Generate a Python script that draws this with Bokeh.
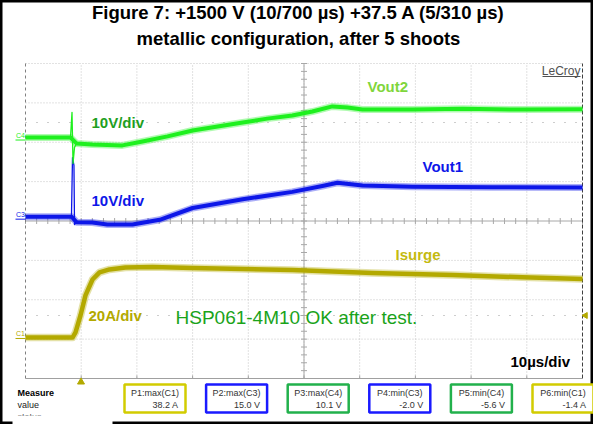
import numpy as np
from bokeh.plotting import figure
from bokeh.models import Range1d
from bokeh.core.properties import value
from bokeh.embed import file_html
from bokeh.resources import INLINE

# ---------------- data ----------------
# time in microseconds (10 us/div, trigger at t=0)
t_vout2 = [-10, -1.92, -1.65, -1.47, -1.2, -0.84, 2.0, 7.4, 11.0, 15.5, 20.0, 24.5,
           29.0, 33.4, 37.9, 41.5, 45.1, 47.8, 50.5, 59.5, 68.5, 79.2, 90]
v_vout2 = [0, 0, 6.4, -6.6, -2.5, -1.5, -1.8, -2.0, -1.0, 0.3, 1.8, 2.8,
           3.8, 4.8, 5.6, 6.6, 7.9, 7.6, 7.1, 7.1, 7.3, 7.1, 7.2]          # V (C4)

t_vout1 = [-10, -1.75, -1.56, -1.3, -1.2, -0.84, 2.0, 4.7, 9.2, 14.1, 20.0, 29.0,
           37.9, 43.3, 46.0, 50.5, 59.5, 73.8, 90]
v_vout1 = [0, 0, 15.0, 13.0, -2.0, -1.4, -1.5, -2.0, -2.0, -0.8, 2.2, 4.4,
           6.3, 7.8, 8.6, 7.9, 7.6, 7.5, 7.4]                               # V (C3)

t_isurge = [-10, -1.56, -1.02, -0.13, 0.77, 2.03, 3.29, 5.08, 7.95, 12.8, 20.0,
            37.9, 52.3, 66.7, 79.2, 90]
i_isurge = [-0.8, -0.8, 1.8, 10.4, 20.6, 28.7, 32.3, 33.8, 34.8, 35.0, 34.5,
            33.5, 32.0, 31.0, 29.8, 29.0]                                   # A (C1)

# channel settings: vertical position (div) and sensitivity (unit/div)
ch_names = ["C4", "C3", "C1"]
ch_offset_div = [2.12, 0.11, -2.92]
ch_scale = [10, 10, 20]

meas_labels = ["P1:max(C1)", "P2:max(C3)", "P3:max(C4)", "P4:min(C3)", "P5:min(C4)", "P6:min(C1)"]
meas_values = ["38.2 A", "15.0 V", "10.1 V", "-2.0 V", "-5.6 V", "-1.4 A"]

title_lines = ["Figure 7: +1500 V (10/700 \u00b5s) +37.5 A (5/310 \u00b5s)",
               "metallic configuration, after 5 shoots"]

# ---------------- layout (screen pixels of the page) ----------------
W, H = 593, 424
FX0, FY0 = 8, 8
GX0, GX1 = 33, 590          # grid left/right
GYT, GYB = 71, 386          # grid top/bottom
GYC = (GYT + GYB) / 2
T0, T1 = -10, 90
PX_US = (GX1 - GX0) / (T1 - T0)
PX_DIV = (GYB - GYT) / 8.0


def xd(px):
    return T0 + (px - GX0) / PX_US


def yd(py):
    return (GYC - py) / PX_DIV


FONT = "Liberation Sans"
C_GREEN = "#1ef01e"
C_BLUE = "#0d17e8"
C_YEL = "#b3a900"
C_BOXY = "#d2cc00"
C_BOXB = "#1a1aff"
C_BOXG = "#22b14c"

p = figure(width=W, height=H, output_backend="svg", toolbar_location=None,
           x_range=Range1d(xd(FX0), xd(FX0 + W)), y_range=Range1d(yd(FY0 + H), yd(FY0)),
           min_border=0, min_border_left=0, min_border_right=0,
           min_border_top=0, min_border_bottom=0)
p.axis.visible = False
p.grid.visible = False
p.background_fill_color = "white"
p.border_fill_color = "white"
p.outline_line_color = "black"
p.outline_line_width = 4

# extra ranges per channel in their own units
y0, y1 = p.y_range.start, p.y_range.end
for name, off, sc in zip(ch_names, ch_offset_div, ch_scale):
    p.extra_y_ranges[name] = Range1d((y0 - off) * sc, (y1 - off) * sc)

# ---------------- graticule ----------------
xt = np.arange(T0 + 10, T1, 10)
p.segment(x0=xt, x1=xt, y0=-4, y1=4, line_color="#c4c4c4", line_width=1, line_dash="1 2")
yt = np.array([-3, -2, -1, 1, 2, 3])
p.segment(x0=T0, x1=T1, y0=yt, y1=yt, line_color="#c4c4c4", line_width=1, line_dash="1 2")
# top edge
p.segment(x0=[T0], x1=[T1], y0=[4], y1=[4], line_color="#c4c4c4", line_dash="1 2")
# sparse dotted level lines
p.segment(x0=[T0, T0], x1=[T1, T1], y0=[yd(130), yd(323)], y1=[yd(130), yd(323)],
          line_color="#9a9a9a", line_dash="1 10")
# centre axes with minor ticks
p.segment(x0=[40], x1=[40], y0=[-4], y1=[4], line_color="#a8a8a8")
p.segment(x0=[T0], x1=[T1], y0=[0], y1=[0], line_color="#a8a8a8")
mx = np.arange(T0, T1 + 0.01, 2.0)
hy = 3.0 / PX_DIV
p.segment(x0=mx, x1=mx, y0=-hy, y1=hy, line_color="#a8a8a8")
my = np.arange(-4, 4.01, 0.2)
hx = 3.0 / PX_US
p.segment(x0=40 - hx, x1=40 + hx, y0=my, y1=my, line_color="#a8a8a8")
# edges
p.segment(x0=[T0], x1=[T0], y0=[-4], y1=[4], line_color="#808080", line_dash="3 3")
p.segment(x0=[T1], x1=[T1], y0=[-4], y1=[4], line_color="#404040", line_dash="4 2")
p.segment(x0=[T0], x1=[T1], y0=[-4], y1=[-4], line_color="#a0a0a0")
p.segment(x0=xt, x1=xt, y0=-4, y1=-4 + hy, line_color="#a0a0a0")

# ---------------- traces (fuzzy halo + core, like a noisy scope trace) ----------------
def trace(tt, vv, rn, col, wc, spike=None):
    tt = list(tt)
    vv = list(vv)
    if spike is not None:
        a, b = spike          # indices bounding the thin transient spike
        tk = tt[:a + 1] + tt[b:]
        vk = vv[:a + 1] + vv[b:]
        p.line(tt[a:b + 1], vv[a:b + 1], y_range_name=rn, line_color=col,
               line_width=1.3, line_join="round")
    else:
        tk, vk = tt, vv
    p.line(tk, vk, y_range_name=rn, line_color=col, line_width=wc + 3, line_alpha=0.35,
           line_join="round")
    p.line(tk, vk, y_range_name=rn, line_color=col, line_width=wc, line_join="round")


trace(t_isurge, i_isurge, "C1", C_YEL, 4.5)
trace(t_vout1, v_vout1, "C3", C_BLUE, 4, spike=(1, 5))
trace(t_vout2, v_vout2, "C4", C_GREEN, 4, spike=(1, 5))

# ---------------- channel ground markers ----------------
ch_cols = [C_GREEN, C_BLUE, C_YEL]
gnd_px = [GYC - o * PX_DIV for o in ch_offset_div]
p.text(x=[xd(23.5)] * 3, y=[yd(g - 2) for g in gnd_px], text=ch_names,
       text_font=value(FONT), text_font_size="7px", text_color=ch_cols,
       text_baseline="middle", text_align="left")
p.segment(x0=[xd(23)] * 3, x1=[xd(33)] * 3, y0=[yd(g + 2.5) for g in gnd_px],
          y1=[yd(g + 2.5) for g in gnd_px], line_color=ch_cols, line_width=1)

# trigger markers
p.scatter(x=[xd(88.5)], y=[yd(389.5)], marker="triangle", size=7, color=C_YEL)
p.scatter(x=[xd(593)], y=[yd(323)], marker="triangle", size=6, color=C_YEL, angle=np.pi / 2)

# ---------------- labels ----------------
def txt(px, py, s, color, size, bold=True, align="left"):
    p.text(x=[xd(px)], y=[yd(py)], text=[s], text_font=value(FONT),
           text_font_size=f"{size}px", text_color=color,
           text_font_style="bold" if bold else "normal",
           text_baseline="middle", text_align=align)


txt(306, 20, title_lines[0], "black", 18.5, align="center")
txt(306, 46, title_lines[1], "black", 18.5, align="center")

txt(99, 130, "10V/div", "#1f9f1f", 15)
txt(375, 94, "Vout2", "#7fd63c", 15)
txt(430, 174, "Vout1", C_BLUE, 15)
txt(99, 208, "10V/div", C_BLUE, 15)
txt(403, 262, "Isurge", "#c4ba10", 15)
txt(96, 323, "20A/div", C_YEL, 15)
txt(183, 325, "HSP061-4M10 OK after test.", "#1aa31a", 19, bold=False)
txt(518, 369, "10\u00b5s/div", "black", 15)
txt(588, 78, "LeCroy", "#505050", 12, bold=False, align="right")
p.segment(x0=[xd(550)], x1=[xd(588)], y0=[yd(84)], y1=[yd(84)], line_color="#505050")

# ---------------- measurement row ----------------
txt(25, 400, "Measure", "black", 9)
txt(25, 412, "value", "#222222", 9, bold=False)
txt(25, 424, "status", "#222222", 9, bold=False)
p.quad(left=[xd(20)], right=[xd(120)], top=[yd(423)], bottom=[yd(434)],
       fill_color="white", line_color=None)

box_cols = [C_BOXY, C_BOXB, C_BOXG, C_BOXB, C_BOXG, C_BOXY]
bl = [132 + i * 81.6 for i in range(6)]
br = [b + 61 for b in bl]
p.quad(left=[xd(b) for b in bl], right=[xd(b) for b in br],
       top=[yd(392)] * 6, bottom=[yd(420)] * 6,
       fill_color="white", line_color=box_cols, line_width=2.5)
p.text(x=[xd((a + b) / 2) for a, b in zip(bl, br)], y=[yd(400.5)] * 6, text=meas_labels,
       text_font=value(FONT), text_font_size="9px", text_color="#333333",
       text_baseline="middle", text_align="center")
p.text(x=[xd(b - 7) for b in br], y=[yd(412)] * 6, text=meas_values,
       text_font=value(FONT), text_font_size="9px", text_color="#333333",
       text_baseline="middle", text_align="right")

open("out.html", "w").write(file_html(p, INLINE))
